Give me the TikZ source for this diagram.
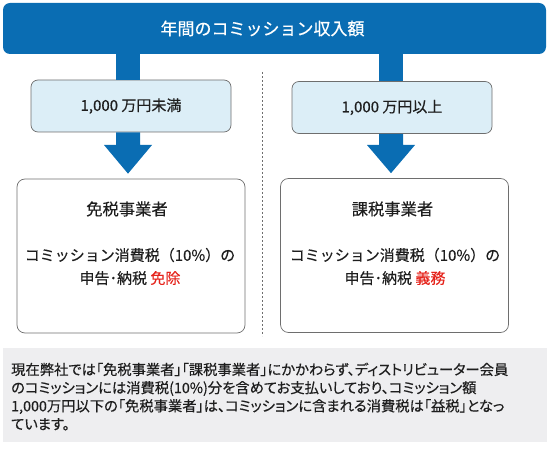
\documentclass[tikz,border=0pt]{standalone}
\usepackage{fontspec}
\setmainfont{Noto Sans CJK JP}[FakeBold=0.4]
\newfontfamily\jpp{Noto Sans CJK JP}[RawFeature=+palt, FakeBold=0.4]
\usetikzlibrary{calc}
\definecolor{barblue}{HTML}{0A6DB3}
\definecolor{lightblue}{HTML}{DCEEF7}
\definecolor{boxgray}{HTML}{EEEEF0}
\definecolor{redtxt}{HTML}{E5231B}
\definecolor{edgegray}{HTML}{6E6E6E}
\definecolor{txt}{HTML}{1E1E1E}
\begin{document}
\begin{tikzpicture}[x=1pt,y=-1pt,
  bar/.style={fill=barblue, rounded corners=7pt, minimum width=543pt, minimum height=51pt, inner sep=0pt},
  bartext/.style={text=white, font=\fontsize{17}{20}\selectfont, inner sep=0pt},
  cond/.style={fill=lightblue, draw=edgegray, line width=0.7pt, rounded corners=7pt, minimum width=200pt, minimum height=52pt, text=txt, font=\fontsize{15}{18}\selectfont, inner sep=0pt},
  result/.style={draw=edgegray, line width=0.7pt, rounded corners=8pt, minimum width=228pt, minimum height=154pt, inner sep=0pt},
  rtitle/.style={text=txt, font=\fontsize{16.3}{20}\selectfont, inner sep=0pt},
  rtext/.style={text=txt, font=\fontsize{15}{23}\selectfont, align=center, inner sep=0pt},
  note/.style={fill=boxgray, minimum width=544pt, minimum height=94pt, inner sep=0pt},
  notetext/.style={text=txt, font=\jpp\fontsize{14.3}{18.2}\selectfont, align=left, inner sep=0pt, anchor=north west},
  blockarrow/.style={fill=barblue},
  divider/.style={draw=edgegray, dash pattern=on 2pt off 2pt, line width=0.6pt}
]
\useasboundingbox (0,0) rectangle (550,449);

\node[bar] (top) at (274.5,28.5) {};
\node[bartext] (toptext) at (262.5,28.5) {年間のコミッション収入額};

\node[cond] (l2) at (131,106) {1,000 万円未満};
\node[cond] (r2) at (392,107.5) {1,000 万円以上};

\node[result] (l3) at (131,256) {};
\node[result] (r3) at (394.5,255.5) {};

\node[rtitle] (l3t) at (127,209) {免税事業者};
\node[rtext] (l3b) at (130,266.5) {コミッション消費税（10\%）の\\申告･納税 {\color{redtxt}免除}};
\node[rtitle] (r3t) at (392.5,209) {課税事業者};
\node[rtext] (r3b) at (395,266.5) {コミッション消費税（10\%）の\\申告･納税 {\color{redtxt}義務}};

% block arrows
\coordinate (la) at (128,0);
\coordinate (ra) at (391,0);
\fill[blockarrow] ($(la |- top.south)+(-12,0)$) rectangle ($(la |- l2.north)+(12,0)$);
\fill[blockarrow] ($(ra |- top.south)+(-12,0)$) rectangle ($(ra |- r2.north)+(12,0)$);
\fill[blockarrow] ($(la |- l2.south)+(-12,0)$) -- ($(la |- l2.south)+(12,0)$) -- (140,145) -- (152,145) -- ($(la |- l3.north)+(0,-5)$) -- (104,145) -- (116,145) -- cycle;
\fill[blockarrow] ($(ra |- r2.south)+(-12,0)$) -- ($(ra |- r2.south)+(12,0)$) -- (403,145) -- (415,145) -- ($(ra |- r3.north)+(0,-5)$) -- (367,145) -- (379,145) -- cycle;

% divider
\coordinate (dtop) at (262,72);
\coordinate (dbot) at (262,336);
\draw[divider] (dtop) -- (dbot);

% note
\node[note] (nb) at (275,395) {};
\node[notetext] (nt) at (11,362.5) {現在弊社では「免税事業者」「課税事業者」にかかわらず、ディストリビューター会員\\のコミッションには消費税(10\%)分を含めてお支払いしており、コミッション額\\1,000万円以下の「免税事業者」は、コミッションに含まれる消費税は「益税」となっ\\ています。};
\end{tikzpicture}
\end{document}
